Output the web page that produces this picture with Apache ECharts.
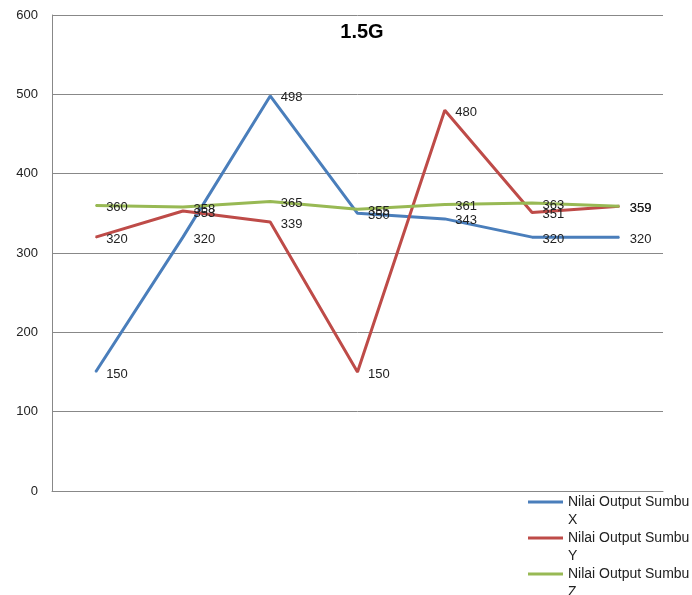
<!DOCTYPE html>
<html>
<head>
<meta charset="utf-8">
<script src="https://cdn.jsdelivr.net/npm/echarts@6/dist/echarts.min.js"></script>
<style>html,body{margin:0;padding:0;background:#fff}#c{width:692px;height:595px}</style>
</head>
<body>
<div id="c"></div>
<script>
var categories = ['1', '2', '3', '4', '5', '6', '7'];
var seriesNames = ['Nilai Output Sumbu\nX', 'Nilai Output Sumbu\nY', 'Nilai Output Sumbu\nZ'];
var valuesX = [150, 320, 498, 350, 343, 320, 320];
var valuesY = [320, 353, 339, 150, 480, 351, 359];
var valuesZ = [360, 358, 365, 355, 361, 363, 359];
var colors = ['#4A7EBB', '#BE4B48', '#98B954'];
var titleText = '1.5G';

var font = 'Liberation Sans, Arial, sans-serif';
function mk(name, data, color) {
  return {
    name: name, type: 'line', data: data,
    symbol: 'circle', symbolSize: 1,
    lineStyle: { color: color, width: 3 },
    itemStyle: { color: color },
    label: { show: true, position: 'right', distance: 10, offset: [0, 2], color: '#222', fontSize: 13, fontFamily: font },
    emphasis: { disabled: true }
  };
}
var chart = echarts.init(document.getElementById('c'));
chart.setOption({
  animation: false,
  backgroundColor: '#fff',
  title: { text: titleText, left: 357, textAlign: 'center', top: 17,
    textStyle: { fontSize: 20, fontWeight: 'bold', color: '#000', fontFamily: font } },
  grid: { left: 52, top: 15, width: 611, height: 476, containLabel: false },
  xAxis: { type: 'category', data: categories, boundaryGap: true,
    axisLine: { lineStyle: { color: '#888' } }, axisTick: { show: false }, axisLabel: { show: false } },
  yAxis: { type: 'value', min: 0, max: 600, interval: 100,
    axisLine: { show: true, lineStyle: { color: '#888' } }, axisTick: { show: false },
    axisLabel: { color: '#222', fontSize: 13, margin: 14, fontFamily: font },
    splitLine: { lineStyle: { color: '#888' } } },
  legend: { orient: 'vertical', left: 523, top: 488, height: 140, itemGap: 0, itemWidth: 35, itemHeight: 36,
    icon: 'path://M0,0L0,0M0,7.5L35,7.5L35,10.5L0,10.5ZM0,36L0,36', data: seriesNames,
    textStyle: { fontSize: 14, lineHeight: 18, color: '#222', fontFamily: font } },
  series: [mk(seriesNames[0], valuesX, colors[0]), mk(seriesNames[1], valuesY, colors[1]), mk(seriesNames[2], valuesZ, colors[2])]
});
</script>
</body>
</html>
